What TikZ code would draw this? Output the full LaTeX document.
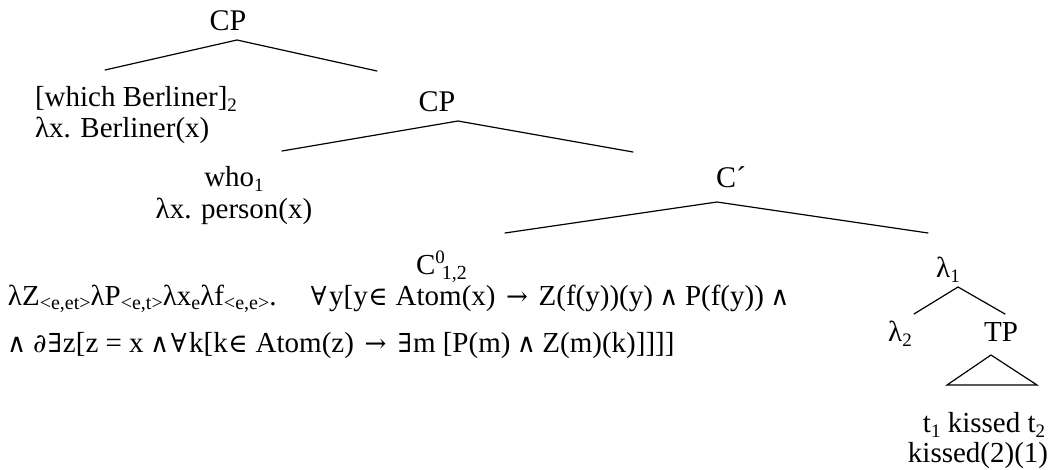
\documentclass[tikz,border=0pt]{standalone}
\usepackage{fontspec}
\setmainfont{Liberation Serif}
\newfontfamily\symf{DejaVu Serif}[Scale=0.9]
\newcommand{\SYM}[2]{\makebox[#1em]{\symf #2}}
\newcommand{\Fa}{\SYM{0.713}{∀}}
\newcommand{\Ex}{\SYM{0.549}{∃}}
\newcommand{\In}{\SYM{0.713}{∈}}
\newcommand{\Ar}{\SYM{0.987}{→}}
\newcommand{\An}{\SYM{0.603}{∧}}
\newcommand{\Pa}{\SYM{0.494}{∂}}
\newcommand{\sub}[1]{\raisebox{-5pt}{\fontsize{19}{19}\selectfont #1}}
\newcommand{\ssub}[1]{\raisebox{-5pt}{\fontsize{20}{20}\selectfont #1}}
\begin{document}
\begin{tikzpicture}[x=1pt,y=-1pt,
  every node/.style={inner sep=0pt,outer sep=0pt,anchor=base,font=\fontsize{29}{34}\selectfont},
  lft/.style={anchor=base west},
  branch/.style={line width=1.2pt,line cap=round}]
\useasboundingbox (0,0) rectangle (1054,470);

% top CP
\node[font=\fontsize{30}{34}\selectfont] (cp1) at (228,31) {CP};
\coordinate (p1) at (237,40);
\coordinate (p1l) at (105,70);
\coordinate (p1r) at (377,71);
\draw[branch] (p1l) -- (p1) -- (p1r);

\node[lft] (wb) at (35,107) {[which Berliner]\sub{2}};
\node[lft] (wbs) at (35,138) {λx. Berliner(x)};

% second CP
\node[font=\fontsize{30}{34}\selectfont] (cp2) at (437,112) {CP};
\coordinate (p2) at (458,121);
\coordinate (p2l) at (282,151);
\coordinate (p2r) at (633,152);
\draw[branch] (p2l) -- (p2) -- (p2r);

\node (who) at (234,187) {who\sub{1}};
\node (whos) at (234,219) {λx. person(x)};

% C'
\node[font=\fontsize{30}{34}\selectfont] (cbar) at (731,188) {C´};
\coordinate (p3) at (717,202);
\coordinate (p3l) at (505,233);
\coordinate (p3r) at (928,233);
\draw[branch] (p3l) -- (p3) -- (p3r);

% C0
\node[lft] (c0) at (416,275) {C\raisebox{12pt}{\fontsize{19}{19}\selectfont 0}\kern-3pt\raisebox{-5pt}{\fontsize{20}{20}\selectfont 1,2}};

\node[lft] (f1) at (8,305) {λZ\ssub{<e,et>}λP\ssub{<e,t>}λx\ssub{e}λf\ssub{<e,e>}.\hspace{1.1em}\Fa y[y\In\ Atom(x) \Ar\ Z(f(y))(y) \An\ P(f(y)) \An};
\node[lft] (f2) at (8,352) {\An\ \Pa\Ex z[z = x \An\Fa k[k\In\ Atom(z) \Ar\ \Ex m [P(m) \An\ Z(m)(k)]]]]};

% lambda1
\node (l1) at (948,277) {λ\sub{1}};
\coordinate (p4) at (958,287);
\coordinate (p4l) at (914,314);
\coordinate (p4r) at (1005,314);
\draw[branch] (p4l) -- (p4) -- (p4r);

\node (l2) at (900,341) {λ\sub{2}};
\node (tp) at (1001,341) {TP};

\coordinate (t1) at (991,355);
\coordinate (t1l) at (947,385);
\coordinate (t1r) at (1037,385);
\draw[branch,line join=miter] (t1) -- (t1l) -- (t1r) -- cycle;

\node (s1) at (984,432) {t\sub{1} kissed t\sub{2}};
\node (s2) at (978,462) {kissed(2)(1)};
\end{tikzpicture}
\end{document}
